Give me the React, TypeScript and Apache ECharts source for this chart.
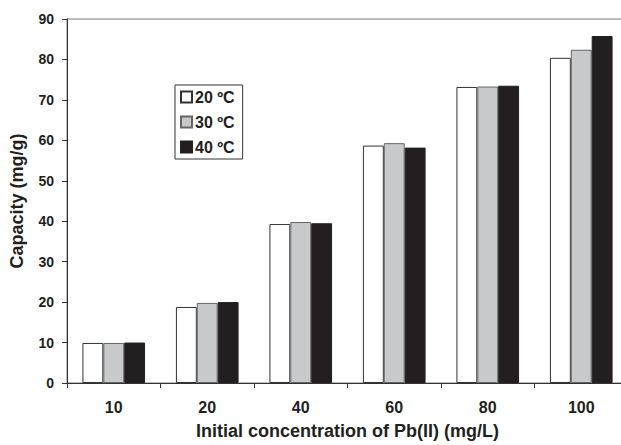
import React, { useEffect, useRef } from "react";
import * as echarts from "echarts";

const categories = ["10", "20", "40", "60", "80", "100"];
const seriesNames = ["20 ºC", "30 ºC", "40 ºC"];
const values20 = [9.9, 18.8, 39.3, 58.7, 73.2, 80.4];
const values30 = [9.9, 19.8, 39.8, 59.3, 73.3, 82.4];
const values40 = [10.0, 20.0, 39.5, 58.2, 73.5, 85.8];
const yTicks = { min: 0, max: 90, interval: 10 };

const FONT = "'Liberation Sans', Arial, sans-serif";

export default function App() {
  const ref = useRef<HTMLDivElement>(null);
  useEffect(() => {
    if (!ref.current) return;
    const chart = echarts.init(ref.current, undefined, { renderer: "svg" });
    const colors = ["#ffffff", "#c8c9cb", "#231f20"];
    const borders = ["#333333", "#666666", "#231f20"];
    const data = [values20, values30, values40];
    chart.setOption({
      animation: false,
      backgroundColor: "#ffffff",
      grid: {
        left: 67,
        right: 0,
        top: 19,
        bottom: 57,
        show: true,
        borderColor: "#7a7a7a",
        borderWidth: 1,
      },
      legend: {
        orient: "vertical",
        left: 175,
        top: 85,
        itemWidth: 11,
        itemHeight: 11,
        itemGap: 9,
        padding: [4, 8, 4, 5],
        borderColor: "#333333",
        borderWidth: 1,
        icon: "rect",
        textStyle: { fontFamily: FONT, fontWeight: "bold", fontSize: 16, lineHeight: 14, color: "#231f20", padding: [0, 0, 0, -2] },
        data: seriesNames,
      },
      xAxis: {
        type: "category",
        data: categories,
        name: "Initial concentration of Pb(II) (mg/L)",
        nameLocation: "middle",
        nameGap: 39,
        nameTextStyle: { fontFamily: FONT, fontWeight: "bold", fontSize: 18, color: "#231f20" },
        axisLine: { lineStyle: { color: "#333333", width: 1 } },
        axisTick: { show: true, inside: false, length: 5, lineStyle: { color: "#333333" } },
        axisLabel: { fontFamily: FONT, fontWeight: "bold", fontSize: 16, color: "#231f20", margin: 16 },
      },
      yAxis: {
        type: "value",
        min: yTicks.min,
        max: yTicks.max,
        interval: yTicks.interval,
        name: "Capacity (mg/g)",
        nameLocation: "middle",
        nameGap: 41,
        nameTextStyle: { fontFamily: FONT, fontWeight: "bold", fontSize: 18, color: "#231f20" },
        axisLine: { show: true, lineStyle: { color: "#333333", width: 1 } },
        axisTick: { show: true, inside: false, length: 5, lineStyle: { color: "#333333" } },
        axisLabel: { fontFamily: FONT, fontWeight: "bold", fontSize: 14, color: "#231f20", margin: 13 },
        splitLine: { show: false },
      },
      series: seriesNames.map((name, i) => ({
        name,
        type: "bar",
        data: data[i],
        barGap: "0%",
        barCategoryGap: "33%",
        itemStyle: { color: colors[i], borderColor: borders[i], borderWidth: 1 },
      })),
    });
    return () => chart.dispose();
  }, []);
  return (
    <div style={{ position: "absolute", left: 0, top: 0, width: 621, height: 445, overflow: "hidden", background: "#fff" }}>
      <div ref={ref} style={{ width: 628, height: 445 }} />
    </div>
  );
}
